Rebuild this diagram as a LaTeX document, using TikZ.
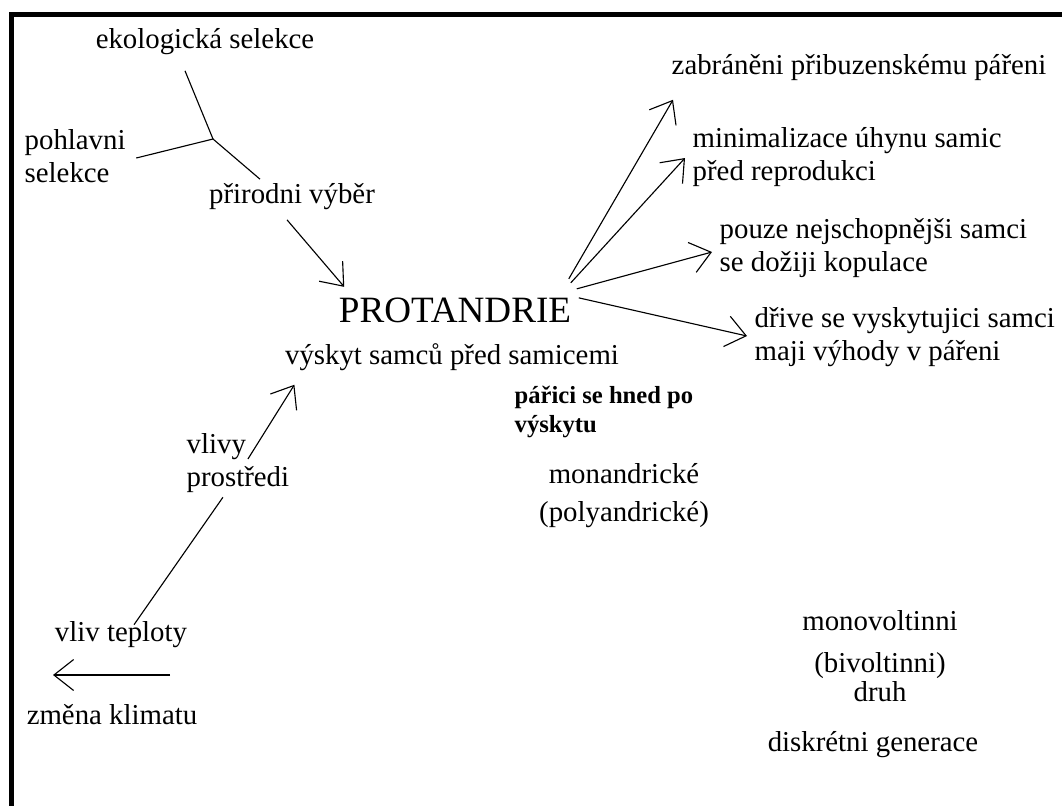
\documentclass[tikz,border=0pt]{standalone}
\usepackage{fontspec}
\setmainfont{Liberation Serif}
\usepackage{tikz}
\usetikzlibrary{arrows.meta}

\begin{document}
\begin{tikzpicture}[x=0.025cm, y=-0.025cm,
  txt/.style={inner sep=1pt, font=\fontsize{20.5}{23.5}\selectfont},
  lefttxt/.style={txt, align=left, anchor=west},
  midtxt/.style={txt, align=center},
  arrow/.style={-{Straight Barb[length=14pt, width=22pt]}, line width=0.8pt},
  link/.style={line width=0.8pt},
  frame/.style={line width=4pt}
]
\useasboundingbox (0,0) rectangle (1062,805);
\draw[frame] (11.5,810) -- (11.5,14.5) -- (1070,14.5);

% left side: selection and environment
\node[txt] (ekol) at (205,42) {ekologická selekce};
\node[lefttxt] (pohl) at (23,156) {pohlavni\\selekce};
\node[txt] (prir) at (292,197) {přirodni výběr};
\coordinate (sel) at (213,139);
\draw[link] ([shift={(-20,14)}]ekol.south) -- (sel);
\draw[link] ([shift={(9,2)}]pohl.east) -- (sel);
\draw[link] (sel) -- ([shift={(-32,-3)}]prir.north);

% centre
\node[txt, font=\fontsize{26.4}{30}\selectfont] (prot) at (455,310) {PROTANDRIE};
\node[txt] (vysk) at (452,357) {výskyt samců před samicemi};
\node[lefttxt, font=\fontsize{17.5}{20.5}\selectfont\bfseries] (paric) at (513,412) {pářici se hned po\\výskytu};
\node[midtxt] (mono) at (624,496) {monandrické\\[3.5pt](polyandrické)};
\draw[arrow] ([shift={(-5,8)}]prir.south) -- ([shift={(7,-9)}]prot.north west);

\node[txt] (tepl) at (121,635) {vliv teploty};
\node[txt] (klim) at (112,715) {změna klimatu};
\node[lefttxt] (vliv) at (185,463) {vlivy\\prostředi};
\draw[link] ([shift={(13,4.5)}]tepl.north) -- ([shift={(-15,3)}]vliv.south);
\draw[arrow] ([shift={(10,-4)}]vliv.center) -- ([shift={(11,12.5)}]vysk.south west);
\coordinate (klimA) at (170,675);
\coordinate (klimB) at (53,675);
\draw[arrow] (klimA) -- (klimB);

% right side: consequences
\node[lefttxt] (zabr) at (670,68) {zabráněni přibuzenskému pářeni};
\node[lefttxt] (minim) at (691,157) {minimalizace úhynu samic\\před reprodukci};
\node[lefttxt] (pouze) at (718,248) {pouze nejschopnějši samci\\se dožiji kopulace};
\node[lefttxt] (drive) at (753,337) {dřive se vyskytujici samci\\maji výhody v pářeni};
\draw[arrow] ([shift={(-4,-17)}]prot.north east) -- ([shift={(3,17)}]zabr.south west);
\draw[arrow] ([shift={(-2,-13)}]prot.north east) -- ([shift={(-6,1)}]minim.west);
\draw[arrow] ([shift={(4,-7)}]prot.north east) -- ([shift={(-6,4)}]pouze.west);
\draw[arrow] ([shift={(6,2)}]prot.north east) -- ([shift={(-6,-1)}]drive.west);

\node[midtxt] (volt) at (880,656) {monovoltinni\\[6.5pt](bivoltinni)\\[-2.5pt]druh};
\node[txt] (gen) at (873,745) {diskrétni generace};
\end{tikzpicture}
\end{document}
